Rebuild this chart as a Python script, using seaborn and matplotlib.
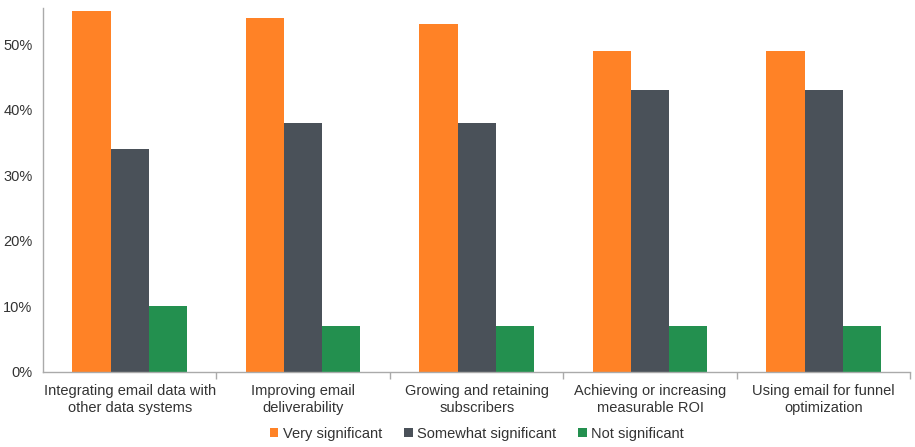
import seaborn as sns
import matplotlib.pyplot as plt
import pandas as pd
from matplotlib.ticker import FixedLocator, PercentFormatter

categories = ['Integrating email data with\nother data systems',
              'Improving email\ndeliverability',
              'Growing and retaining\nsubscribers',
              'Achieving or increasing\nmeasurable ROI',
              'Using email for funnel\noptimization']
very = [55, 54, 53, 49, 49]
somewhat = [34, 38, 38, 43, 43]
not_sig = [10, 7, 7, 7, 7]
series = ['Very significant', 'Somewhat significant', 'Not significant']
colors = ['#FF8226', '#4A5159', '#23904F']

rows = []
for name, vals in zip(series, [very, somewhat, not_sig]):
    for cat, v in zip(categories, vals):
        rows.append({'category': cat, 'series': name, 'value': v})
data = pd.DataFrame(rows)

sns.set_style('white')
plt.rcParams['font.family'] = ['Liberation Sans', 'DejaVu Sans']

fig = plt.figure(figsize=(9.15, 4.47), dpi=100)
ax = fig.add_axes([0.047, 0.168, 0.948, 0.814])
sns.barplot(data=data, x='category', y='value', hue='series', palette=colors,
            width=0.66, saturation=1, linewidth=0, ax=ax)

ax.set_ylim(0, 55.5)
ax.set_xlim(-0.5, 4.5)
ax.set_yticks([0, 10, 20, 30, 40, 50])
ax.yaxis.set_major_formatter(PercentFormatter(decimals=0))
ax.set_xlabel('')
ax.set_ylabel('')
ax.tick_params(axis='x', which='major', length=0, labelsize=10.5, pad=9, colors='#333333')
ax.tick_params(axis='y', length=4, width=1, color='#AAAAAA', labelsize=10.5, colors='#333333')
ax.xaxis.set_minor_locator(FixedLocator([0.5, 1.5, 2.5, 3.5, 4.5]))
ax.tick_params(axis='x', which='minor', length=5, width=1, color='#AAAAAA', bottom=True)
for side in ['top', 'right']:
    ax.spines[side].set_visible(False)
for side in ['left', 'bottom']:
    ax.spines[side].set_color('#AAAAAA')
    ax.spines[side].set_linewidth(1)

ax.legend(loc='center', bbox_to_anchor=(0.5, -0.17), ncol=3, frameon=False,
          fontsize=10.5, handlelength=0.6, handleheight=0.6, handletextpad=0.3,
          columnspacing=1.5, labelcolor='#333333')

fig.savefig('out.png', dpi=100)
